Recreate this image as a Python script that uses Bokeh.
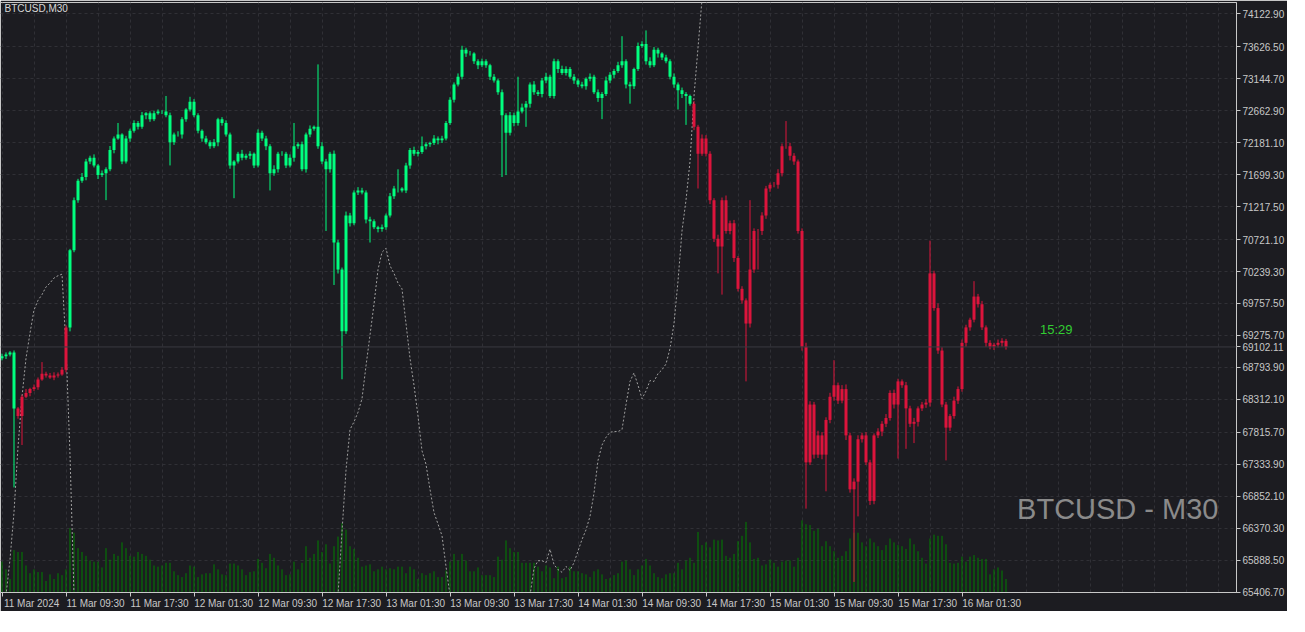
from bokeh.plotting import figure
from bokeh.models import (Range1d, FixedTicker, PrintfTickFormatter, Label, Span,
                          ColumnDataSource, LinearAxis)
from bokeh.embed import file_html
from bokeh.resources import INLINE

# ---------------- data ----------------
symbol_title = "BTCUSD,M30"
watermark = "BTCUSD - M30"
timer_text = "15:29"
last_price = 69102.11
first_open = 68930

closes = [
    68961, 68990, 69019, 68176, 68060, 68351, 68409, 68467, 68496, 68612, 68699, 68670, 68641, 68670, 68688, 68758,
    69397, 70560, 71315, 71606, 71664, 71897, 71955, 71838, 71693, 71722, 71780, 72071, 72245, 72303, 71897, 72245,
    72362, 72478, 72420, 72594, 72623, 72536, 72623, 72652, 72652, 72594, 72187, 72303, 72303, 72536, 72681, 72798,
    72594, 72362, 72245, 72187, 72129, 72187, 72536, 72478, 72303, 71838, 71897, 72013, 71955, 71984, 72013, 71838,
    72332, 72245, 72129, 71722, 71780, 72013, 72013, 71838, 71955, 72129, 72158, 71780, 72303, 72391, 72420, 72129,
    71897, 71780, 72013, 70676, 70269, 69339, 71083, 70967, 71432, 71461, 71432, 71025, 70996, 70908, 70879, 70908,
    71083, 71373, 71490, 71490, 71461, 71838, 72071, 72013, 72042, 72129, 72158, 72176, 72245, 72216, 72245, 72478,
    72827, 73059, 73175, 73582, 73524, 73524, 73408, 73350, 73408, 73350, 73175, 73117, 72943, 72594, 72330, 72594,
    72478, 72652, 72710, 72769, 73059, 72943, 72914, 73117, 73175, 72885, 73408, 73292, 73233, 73292, 73175, 73117,
    73059, 73030, 73146, 73175, 72943, 72856, 72914, 73117, 73204, 73263, 73350, 73408, 73059, 73030, 73292, 73640,
    73670, 73408, 73350, 73582, 73524, 73466, 73408, 73175, 73059, 72972, 72914, 72885, 72769, 72420, 72013, 72245,
    72013, 71315, 70734, 70618, 71315, 70850, 70967, 70443, 69978, 69804, 69455, 70269, 70850, 70850, 71083, 71490,
    71548, 71548, 71722, 72129, 72129, 71984, 71897, 70850, 69106, 67362, 68234, 67479, 67769, 67479, 68002, 68351,
    68525, 68293, 68467, 67769, 66956, 67072, 67711, 67769, 67362, 66781, 67769, 67827, 67944, 68031, 68409, 68234,
    68583, 68525, 68176, 67944, 67973, 68176, 68234, 68263, 70211, 69688, 69048, 68234, 67886, 68060, 68293, 68467,
    69164, 69397, 69513, 69862, 69746, 69397, 69164, 69106, 69135, 69164, 69194, 69102,
]

up_wick = [
    40, 30, 20, 30, 20, 30, 60, 20, 40, 30, 90, 30, 40, 50, 30, 40,
    30, 20, 40, 30, 60, 40, 30, 50, 20, 40, 30, 60, 30, 70, 20, 40,
    30, 40, 30, 50, 20, 30, 40, 30, 20, 30, 40, 30, 50, 30, 20, 60,
    40, 30, 20, 40, 30, 50, 20, 30, 40, 30, 20, 30, 60, 30, 40, 20,
    50, 30, 40, 30, 60, 30, 40, 30, 50, 40, 30, 40, 30, 50, 20, 30,
    60, 40, 30, 50, 40, 30, 60, 40, 30, 50, 40, 30, 40, 30, 20, 40,
    30, 50, 40, 30, 20, 40, 30, 50, 30, 40, 30, 20, 50, 30, 40, 30,
    40, 30, 50, 60, 30, 40, 20, 30, 40, 30, 20, 40, 30, 40, 30, 50,
    40, 30, 60, 40, 30, 50, 30, 40, 60, 30, 40, 30, 50, 40, 30, 40,
    30, 40, 20, 50, 30, 40, 30, 60, 40, 30, 50, 40, 30, 40, 20, 50,
    40, 30, 60, 40, 30, 20, 40, 30, 50, 30, 40, 30, 20, 40, 30, 60,
    50, 40, 30, 60, 40, 70, 40, 50, 30, 40, 30, 60, 40, 30, 50, 40,
    30, 40, 60, 40, 30, 50, 40, 30, 40, 60, 50, 40, 70, 50, 40, 60,
    50, 40, 60, 70, 40, 50, 60, 40, 50, 40, 30, 50, 40, 60, 40, 50,
    40, 30, 50, 40, 60, 30, 40, 50, 60, 40, 70, 50, 40, 30, 60, 40,
    50, 40, 30, 60, 40, 50, 30, 40, 30, 50, 40, 30,
]

dn_wick = [
    30, 40, 30, 20, 40, 30, 20, 50, 30, 40, 20, 30, 20, 40, 30, 20,
    40, 60, 30, 40, 30, 50, 40, 30, 60, 30, 40, 30, 50, 20, 40, 30,
    50, 30, 40, 30, 60, 40, 30, 20, 40, 30, 30, 40, 30, 60, 40, 30,
    30, 40, 50, 30, 40, 30, 60, 40, 30, 50, 40, 30, 40, 30, 50, 40,
    30, 40, 60, 30, 40, 50, 30, 40, 30, 60, 40, 30, 50, 40, 30, 40,
    40, 30, 50, 40, 60, 30, 40, 50, 30, 40, 30, 60, 40, 30, 50, 40,
    40, 30, 40, 60, 30, 40, 50, 30, 40, 30, 50, 40, 30, 60, 40, 30,
    30, 40, 30, 40, 50, 30, 40, 60, 30, 40, 50, 30, 40, 30, 60, 40,
    50, 40, 30, 40, 60, 40, 30, 50, 40, 30, 40, 60, 30, 40, 30, 50,
    40, 30, 50, 40, 30, 60, 40, 30, 40, 50, 30, 40, 60, 30, 40, 30,
    30, 50, 40, 30, 60, 40, 30, 40, 50, 30, 60, 40, 30, 50, 40, 30,
    40, 60, 50, 40, 70, 40, 50, 60, 40, 50, 40, 60, 50, 40, 60, 50,
    50, 40, 60, 50, 40, 70, 50, 40, 60, 50, 40, 60, 50, 70, 40, 50,
    60, 50, 40, 70, 50, 40, 60, 50, 40, 60, 50, 40, 70, 50, 40, 60,
    50, 40, 60, 50, 40, 70, 40, 50, 60, 40, 50, 40, 60, 50, 40, 50,
    40, 60, 50, 40, 50, 40, 60, 40, 50, 40, 60, 40,
]

high_spikes = {10: 68874, 29: 72478, 41: 72885, 47: 72873, 73: 72478, 79: 73361, 99: 71780,
               105: 72274, 129: 73175, 155: 73786, 161: 73873, 187: 71315, 196: 72507,
               208: 68903, 232: 70705, 243: 70094}
low_spikes = {3: 66985, 5: 67624, 26: 71315, 42: 71838, 58: 71344, 67: 71461, 81: 70850,
              83: 70036, 85: 68615, 92: 70676, 125: 71664, 126: 71693, 131: 72420, 150: 72536,
              157: 72769, 169: 72681, 171: 72449, 174: 71490, 179: 70211, 180: 69891,
              186: 68583, 189: 70269, 201: 66665, 206: 66926, 213: 65560, 214: 66548,
              224: 67420, 226: 67566, 228: 67653, 236: 67392}

volumes = [
    800, 600, 350, 1100, 1050, 1050, 700, 500, 600, 530, 530, 300, 470, 350, 500, 450,
    600, 1670, 1550, 1150, 1050, 950, 830, 800, 800, 650, 1150, 850, 1000, 950, 1300, 1150,
    950, 930, 1050, 1000, 950, 850, 700, 670, 700, 770, 770, 550, 450, 400, 500, 700,
    670, 400, 470, 500, 500, 730, 600, 470, 450, 750, 750, 700, 600, 450, 530, 550,
    870, 770, 630, 1000, 900, 700, 600, 450, 470, 800, 600, 770, 1200, 900, 1000, 1350,
    1050, 1250, 750, 1200, 1450, 1800, 1630, 1200, 1130, 900, 670, 700, 730, 550, 600, 670,
    600, 630, 600, 670, 670, 500, 670, 600, 350, 500, 450, 500, 550, 400, 400, 570,
    800, 1000, 830, 1000, 830, 550, 550, 650, 450, 450, 450, 400, 930, 850, 1350, 1150,
    1050, 1050, 770, 770, 770, 770, 670, 550, 700, 650, 370, 670, 370, 400, 670, 550,
    550, 500, 470, 400, 550, 600, 470, 350, 370, 450, 500, 800, 830, 600, 450, 600,
    700, 870, 700, 500, 400, 370, 470, 500, 500, 770, 600, 830, 900, 770, 1570, 1230,
    1300, 1170, 1370, 1350, 1370, 950, 900, 1000, 1330, 1470, 1830, 1300, 870, 900, 700, 730,
    850, 770, 670, 800, 830, 830, 670, 900, 1870, 1770, 1750, 1600, 1650, 1200, 1330, 1200,
    1070, 900, 950, 1070, 1400, 1550, 1550, 1300, 1200, 1400, 1300, 1200, 1100, 1230, 1400, 1300,
    1230, 1200, 1130, 1400, 1250, 1070, 900, 750, 1400, 1500, 1470, 1470, 1250, 770, 750, 770,
    930, 800, 930, 970, 900, 870, 870, 470, 600, 650, 570, 350,
]

# trend colouring of candles: segment start bar and direction
trend_starts = [0, 4, 17, 173]
trend_dirs = ["up", "down", "up", "down"]

# dotted indicator line, drawn in the price window (three visible stretches)
ind_seg_starts = [1, 84, 132]
ind_seg_values = [
    [65357, 65900, 66610, 67595, 68351, 68932, 69310, 69659, 69804, 69891, 70007, 70065, 70141,
     70176, 70199, 69106, 67479, 65357],
    [65357, 66316, 67246, 67857, 67973, 68118, 68322, 68816, 69281, 69746, 70269, 70530, 70589,
     70327, 70211, 70065, 69978, 69455, 68932, 68525, 68060, 67537, 67333, 66956, 66607, 66432,
     66258, 65793, 65357],
    [65357, 65764, 65880, 65880, 65851, 66054, 65822, 65746, 65706, 65793, 65735, 65851, 66025,
     66200, 66345, 66549, 66897, 67391, 67624, 67740, 67816, 67827, 67827, 67857, 68234, 68583,
     68711, 68525, 68322, 68438, 68595, 68583, 68699, 68758, 68845, 69077, 69455, 70095, 70850,
     71315, 71897, 72885, 73611, 74338, 74950],
]

x_tick_bars = [0, 16, 32, 48, 64, 80, 96, 112, 128, 144, 160, 176, 192, 208, 224, 240]
x_tick_labels = ["11 Mar 2024", "11 Mar 09:30", "11 Mar 17:30", "12 Mar 01:30", "12 Mar 09:30",
                 "12 Mar 17:30", "13 Mar 01:30", "13 Mar 09:30", "13 Mar 17:30", "14 Mar 01:30",
                 "14 Mar 09:30", "14 Mar 17:30", "15 Mar 01:30", "15 Mar 09:30", "15 Mar 17:30",
                 "16 Mar 01:30"]
y_ticks = [74122.90, 73626.50, 73144.70, 72662.90, 72181.10, 71699.30, 71217.50, 70721.10,
           70239.30, 69757.50, 69275.70, 68793.90, 68312.10, 67815.70, 67333.90, 66852.10,
           66370.30, 65888.50, 65406.70]

# ---------------- styling ----------------
BG = "#1c1c21"
UP = "#00FF7F"
DOWN = "#DC143C"
VOL = "#008000"
AXIS_TXT = "#c8c8c8"
GRID = "#303036"
FONT = "Liberation Sans"

PX_PER_BAR = 4
FRAME_W = 1236
FRAME_H = 590
X_LO = -0.375
X_HI = X_LO + FRAME_W / PX_PER_BAR
Y_LO, Y_HI = 65401.0, 74294.0
VOL_TOP = 15300
LABEL_SHIFT = 7.4   # bars: x labels start right after their tick, as in the terminal

n = len(closes)
xs = list(range(n))
opens = [first_open] + closes[:-1]
highs = [high_spikes.get(i, max(opens[i], closes[i]) + up_wick[i]) for i in range(n)]
lows = [low_spikes.get(i, min(opens[i], closes[i]) - dn_wick[i]) for i in range(n)]

colors = []
for i in range(n):
    d = trend_dirs[0]
    for s, t in zip(trend_starts, trend_dirs):
        if i >= s:
            d = t
    colors.append(UP if d == "up" else DOWN)

src = ColumnDataSource(dict(
    x=xs, open=opens, close=closes, high=highs, low=lows,
    top=[max(o, c) for o, c in zip(opens, closes)],
    bottom=[min(o, c) for o, c in zip(opens, closes)],
    color=colors, vol=volumes, zero=[0] * n,
))

ind_x, ind_y = [], []
for s, vals in zip(ind_seg_starts, ind_seg_values):
    if ind_x:
        ind_x.append(float("nan"))
        ind_y.append(float("nan"))
    ind_x.extend(range(s, s + len(vals)))
    ind_y.extend(vals)

p = figure(frame_width=FRAME_W, frame_height=FRAME_H,
           x_range=Range1d(X_LO, X_HI), y_range=Range1d(Y_LO, Y_HI),
           y_axis_location="right", output_backend="svg", toolbar_location=None,
           background_fill_color=BG, border_fill_color=BG,
           min_border_left=0, min_border_top=2, min_border_right=0, min_border_bottom=0)
p.extra_y_ranges = {"vol": Range1d(0, VOL_TOP)}
p.outline_line_color = AXIS_TXT

# grid
p.xgrid.ticker = FixedTicker(ticks=list(range(0, 320, 8)))
p.ygrid.ticker = FixedTicker(ticks=y_ticks)
for g in (p.xgrid, p.ygrid):
    g.grid_line_color = GRID
    g.grid_line_dash = "3 3"
    g.grid_line_width = 1

# right price scale, with the last price shown on it
p.yaxis.ticker = FixedTicker(ticks=list(y_ticks) + [last_price])
p.yaxis.formatter = PrintfTickFormatter(format="%.2f")

# bottom axis 1: tick marks only
p.xaxis.ticker = FixedTicker(ticks=x_tick_bars)
p.xaxis.major_label_overrides = {b: "" for b in x_tick_bars}
p.xaxis.major_label_text_font_size = "0px"
p.xaxis.major_label_standoff = 0

# bottom axis 2: the date labels, starting just right of each tick
shifted = [b + LABEL_SHIFT for b in x_tick_bars]
lab_axis = LinearAxis(ticker=FixedTicker(ticks=shifted),
                      major_label_overrides={s: lab for s, lab in zip(shifted, x_tick_labels)},
                      axis_line_color=None, major_tick_line_color=None,
                      major_tick_out=0, major_tick_in=0, minor_tick_out=0, minor_tick_in=0,
                      major_label_standoff=1, major_label_text_color=AXIS_TXT,
                      major_label_text_font=FONT, major_label_text_font_size="10px")
p.add_layout(lab_axis, "below")

for ax in (p.xaxis[0], p.yaxis[0]):
    ax.major_label_text_color = AXIS_TXT
    ax.major_label_text_font = FONT
    ax.major_tick_out = 4
    ax.major_tick_in = 0
    ax.minor_tick_out = 0
    ax.minor_tick_in = 0
    ax.major_tick_line_color = AXIS_TXT
    ax.axis_line_color = AXIS_TXT
p.yaxis.major_label_text_font_size = "10px"
p.yaxis.major_label_standoff = 2

# current price line
p.add_layout(Span(location=last_price, dimension="width", line_color="#3a3a40", line_width=1))

# volumes
p.segment(x0="x", y0="zero", x1="x", y1="vol", source=src, y_range_name="vol",
          line_color=VOL, line_width=1)

# dotted indicator
p.line(ind_x, ind_y, line_color="#a0a0a0", line_width=1, line_dash="2 2")

# candles
p.segment(x0="x", y0="low", x1="x", y1="high", source=src, line_color="color", line_width=1)
p.vbar(x="x", width=0.75, top="top", bottom="bottom", source=src,
       fill_color="color", line_color=None)

# texts
p.add_layout(Label(x=X_LO + 1, y=Y_HI - 88, text=symbol_title, text_font=FONT,
                   text_font_size="10px", text_color="#d8d8d8", text_baseline="middle"))
p.add_layout(Label(x=X_HI - 4.5, y=Y_LO + 1265, text=watermark, text_font=FONT,
                   text_font_size="29px", text_color="#8a8a8a", text_align="right",
                   text_baseline="middle"))
p.add_layout(Label(x=n + 7.5, y=last_price + 263, text=timer_text, text_font=FONT,
                   text_font_size="13px", text_color="#32cd32", text_baseline="middle"))

open("out.html", "w").write(file_html(p, INLINE))
